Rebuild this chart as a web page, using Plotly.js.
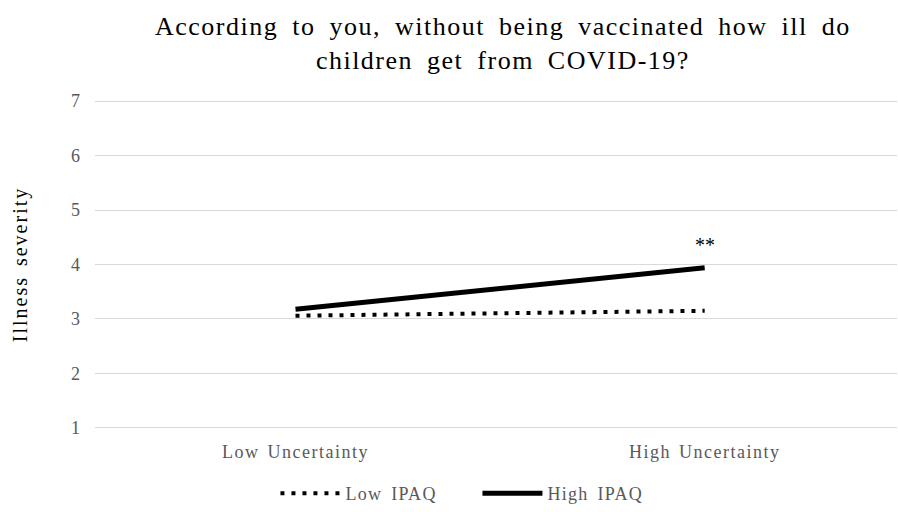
<!DOCTYPE html>
<html>
<head>
<meta charset="utf-8">
<script src="https://cdn.plot.ly/plotly-3.0.1.min.js"></script>
<style>html,body{margin:0;padding:0;background:#fff}#chart{width:898px;height:512px}</style>
</head>
<body>
<div id="chart"></div>
<script>
var categories = ["Low Uncertainty", "High Uncertainty"];
var lowIPAQ = [3.06, 3.15];
var highIPAQ = [3.18, 3.94];
var seriesNames = ["Low IPAQ", "High IPAQ"];
var yTicks = [1, 2, 3, 4, 5, 6, 7];
var titleLines = ["According to you, without being vaccinated how ill do", "children get from COVID-19?"];
var yTitle = "Illness severity";
var sigLabel = "**";
var sigValue = 4.36;

function sp(t, ls, ws) {
  return '<span style="letter-spacing:' + ls + 'px;word-spacing:' + (ws || 0) + 'px">' + t + '</span>';
}

var xIdx = categories.map(function(c, i){ return i; });
var font = "Liberation Serif, Times New Roman, serif";

var traces = [
  {x: xIdx, y: lowIPAQ, name: sp(seriesNames[0], 1.3, 3), mode: "lines", type: "scatter",
   line: {color: "#000", width: 4, dash: "4px,7px"}},
  {x: xIdx, y: highIPAQ, name: sp(seriesNames[1], 1.3, 3), mode: "lines", type: "scatter",
   line: {color: "#000", width: 5}}
];

var layout = {
  width: 898, height: 512,
  margin: {l: 95, r: 1, t: 100, b: 83},
  paper_bgcolor: "#fff", plot_bgcolor: "#fff",
  font: {family: font, color: "#595959", size: 18},
  xaxis: {range: [-0.49, 1.47], tickvals: xIdx,
          ticktext: categories.map(function(c){ return sp(c, 1.5, 2); }),
          showgrid: false, zeroline: false, showline: false, ticks: "", automargin: false,
          ticklabelstandoff: 10, tickfont: {size: 18, color: "#595959"}},
  yaxis: {range: [0.98, 7.02], tickvals: yTicks, ticktext: yTicks.map(String),
          showgrid: true, gridcolor: "#d9d9d9", gridwidth: 1, automargin: false,
          zeroline: false, showline: false, ticks: "", ticklabelstandoff: 14,
          tickfont: {size: 18, color: "#595959"},
          title: {text: sp(yTitle, 2, 3), font: {size: 20, color: "#000"}, standoff: 38}},
  legend: {orientation: "h", xref: "paper", yref: "container", x: 0.225, xanchor: "left",
           y: 0.0, yanchor: "bottom", entrywidth: 127, entrywidthmode: "pixels",
           font: {size: 18, color: "#595959"}, itemwidth: 60},
  showlegend: true,
  annotations: [
    {xref: "paper", yref: "paper", x: 0.509, y: 1.173, xanchor: "center", yanchor: "middle",
     showarrow: false, align: "center",
     text: titleLines.map(function(t){ return sp(t, 1.5, 6); }).join("<br>"),
     font: {size: 26, color: "#000", family: font}},
    {x: 1, y: sigValue, text: sigLabel, showarrow: false,
     font: {size: 20, color: "#000", family: font}}
  ]
};

Plotly.newPlot("chart", traces, layout, {displayModeBar: false, staticPlot: true});
</script>
</body>
</html>
